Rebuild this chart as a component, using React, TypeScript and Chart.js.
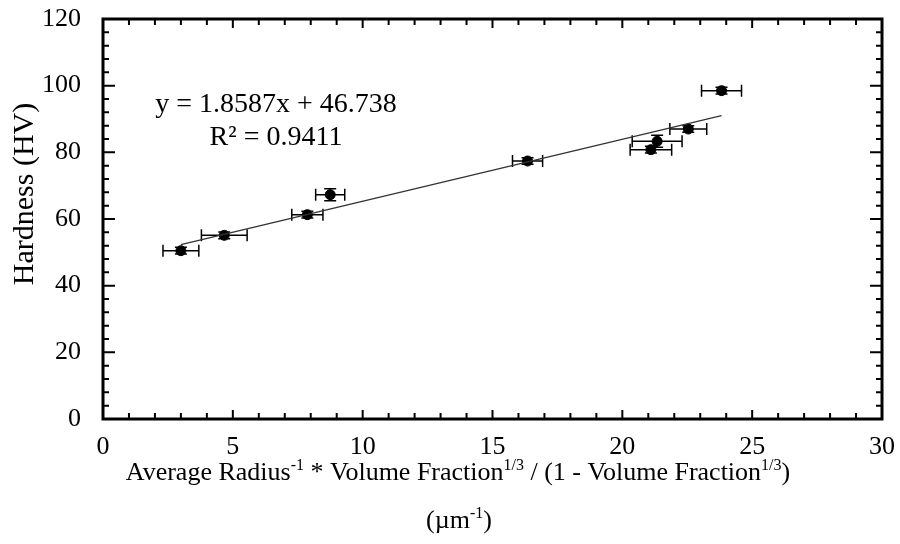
import React, { useEffect, useRef } from "react";
import { Chart, registerables } from "chart.js";

Chart.register(...registerables);

// ---- data ----
const xValues = [3.0, 4.67, 7.87, 8.75, 16.35, 21.1, 21.34, 22.54, 23.82];
const yValues = [50.5, 55.1, 61.3, 67.3, 77.4, 80.8, 83.3, 87.0, 98.5];
const xErrors = [0.69, 0.88, 0.6, 0.56, 0.58, 0.8, 0.96, 0.71, 0.77];
const yErrors = [1.0, 1.0, 1.0, 1.8, 1.0, 1.0, 1.8, 1.0, 1.0];
const trendSlope = 1.8587;
const trendIntercept = 46.738;
const xTickValues = [0, 5, 10, 15, 20, 25, 30];
const yTickValues = [0, 20, 40, 60, 80, 100, 120];
const equationLines = ["y = 1.8587x + 46.738", "R\u00B2 = 0.9411"];
const yTitle = "Hardness (HV)";
const xTitleLine1 = [
  { t: "Average Radius", sup: false },
  { t: "-1", sup: true },
  { t: " * Volume Fraction", sup: false },
  { t: "1/3", sup: true },
  { t: " / (1 - Volume Fraction", sup: false },
  { t: "1/3", sup: true },
  { t: ")", sup: false },
];
const xTitleLine2 = [
  { t: "(\u00B5m", sup: false },
  { t: "-1", sup: true },
  { t: ")", sup: false },
];

const FONT = '"Liberation Serif", "Times New Roman", serif';

function drawRich(ctx: CanvasRenderingContext2D, segs: { t: string; sup: boolean }[], cx: number, baseline: number, size: number, supSize: number, supRise: number) {
  let total = 0;
  const widths = segs.map((s) => {
    ctx.font = `${s.sup ? supSize : size}px ${FONT}`;
    const w = ctx.measureText(s.t).width;
    total += w;
    return w;
  });
  let x = cx - total / 2;
  ctx.textAlign = "left";
  ctx.textBaseline = "alphabetic";
  segs.forEach((s, i) => {
    ctx.font = `${s.sup ? supSize : size}px ${FONT}`;
    ctx.fillText(s.t, x, s.sup ? baseline - supRise : baseline);
    x += widths[i];
  });
}

const decorPlugin = {
  id: "decor",
  beforeDatasetsDraw(chart: any) {
    const ctx = chart.ctx as CanvasRenderingContext2D;
    const xs = chart.scales.x;
    const ys = chart.scales.y;
    ctx.save();
    ctx.strokeStyle = "#000";
    ctx.lineWidth = 1.5;
    const cap = 6;
    for (let i = 0; i < xValues.length; i++) {
      const px = xs.getPixelForValue(xValues[i]);
      const py = ys.getPixelForValue(yValues[i]);
      const x0 = xs.getPixelForValue(xValues[i] - xErrors[i]);
      const x1 = xs.getPixelForValue(xValues[i] + xErrors[i]);
      const y0 = ys.getPixelForValue(yValues[i] - yErrors[i]);
      const y1 = ys.getPixelForValue(yValues[i] + yErrors[i]);
      ctx.beginPath();
      ctx.moveTo(x0, py); ctx.lineTo(x1, py);
      ctx.moveTo(x0, py - cap); ctx.lineTo(x0, py + cap);
      ctx.moveTo(x1, py - cap); ctx.lineTo(x1, py + cap);
      ctx.moveTo(px, y0); ctx.lineTo(px, y1);
      ctx.moveTo(px - cap, y0); ctx.lineTo(px + cap, y0);
      ctx.moveTo(px - cap, y1); ctx.lineTo(px + cap, y1);
      ctx.stroke();
    }
    ctx.restore();
  },
  afterDraw(chart: any) {
    const ctx = chart.ctx as CanvasRenderingContext2D;
    const { left, right, top, bottom } = chart.chartArea;
    const xs = chart.scales.x;
    const ys = chart.scales.y;
    ctx.save();
    ctx.strokeStyle = "#000";
    // ticks
    ctx.lineWidth = 2;
    ctx.beginPath();
    for (let v = 0; v <= 30; v += 1) {
      const p = xs.getPixelForValue(v);
      const len = v % 5 === 0 ? 9 : 6;
      ctx.moveTo(p, bottom); ctx.lineTo(p, bottom - len);
      ctx.moveTo(p, top); ctx.lineTo(p, top + len);
    }
    for (let v = 0; v <= 120; v += 4) {
      const p = ys.getPixelForValue(v);
      const len = v % 20 === 0 ? 12 : 6;
      ctx.moveTo(left, p); ctx.lineTo(left + len, p);
      ctx.moveTo(right, p); ctx.lineTo(right - len, p);
    }
    ctx.stroke();
    // frame
    ctx.lineWidth = 3;
    ctx.strokeRect(left, top, right - left, bottom - top);

    ctx.fillStyle = "#000";
    // equation
    ctx.font = `28px ${FONT}`;
    ctx.textAlign = "center";
    ctx.textBaseline = "alphabetic";
    ctx.fillText(equationLines[0], 276, 112);
    ctx.fillText(equationLines[1], 276, 145);

    // x title
    drawRich(ctx, xTitleLine1, 458, 480, 26, 16, 10);
    drawRich(ctx, xTitleLine2, 459, 528, 26, 16, 10);

    // y title
    ctx.save();
    ctx.translate(33, 194);
    ctx.rotate(-Math.PI / 2);
    ctx.font = `30px ${FONT}`;
    ctx.textAlign = "center";
    ctx.textBaseline = "alphabetic";
    ctx.fillText(yTitle, 0, 0);
    ctx.restore();

    ctx.restore();
  },
};

export default function App() {
  const ref = useRef<HTMLCanvasElement | null>(null);
  useEffect(() => {
    if (!ref.current) return;
    const minX = Math.min(...xValues);
    const maxX = Math.max(...xValues);
    const chart = new Chart(ref.current, {
      type: "scatter",
      data: {
        datasets: [
          {
            label: "trend",
            type: "line",
            data: [
              { x: minX, y: trendSlope * minX + trendIntercept },
              { x: maxX, y: trendSlope * maxX + trendIntercept },
            ],
            borderColor: "#333",
            borderWidth: 1.3,
            pointRadius: 0,
            fill: false,
          } as any,
          {
            label: "Hardness",
            data: xValues.map((x, i) => ({ x, y: yValues[i] })),
            backgroundColor: "#000",
            borderColor: "#000",
            pointRadius: 5,
            pointHoverRadius: 5,
          },
        ],
      },
      options: {
        responsive: false,
        animation: false,
        devicePixelRatio: 1,
        layout: { padding: { left: 0, right: 18, top: 19, bottom: 0 } },
        plugins: { legend: { display: false }, tooltip: { enabled: false }, title: { display: false } },
        scales: {
          x: {
            type: "linear",
            min: 0,
            max: 30,
            afterBuildTicks: (s: any) => { s.ticks = xTickValues.map((v) => ({ value: v })); },
            afterFit: (s: any) => { s.height = 125; s.paddingLeft = 0; s.paddingRight = 0; },
            grid: { display: false, drawTicks: false },
            border: { display: false },
            ticks: { color: "#000", font: { family: FONT, size: 26 }, padding: 13, maxRotation: 0 },
          },
          y: {
            type: "linear",
            min: 0,
            max: 120,
            afterBuildTicks: (s: any) => { s.ticks = yTickValues.map((v) => ({ value: v })); },
            afterFit: (s: any) => { s.width = 103; s.paddingTop = 0; s.paddingBottom = 0; },
            grid: { display: false, drawTicks: false },
            border: { display: false },
            ticks: { color: "#000", font: { family: FONT, size: 26 }, padding: 22 },
          },
        },
      },
      plugins: [decorPlugin],
    } as any);
    return () => chart.destroy();
  }, []);
  return (
    <div style={{ position: "absolute", left: 0, top: 0, width: 900, height: 544, background: "#fff" }}>
      <canvas ref={ref} width={900} height={544} />
    </div>
  );
}
